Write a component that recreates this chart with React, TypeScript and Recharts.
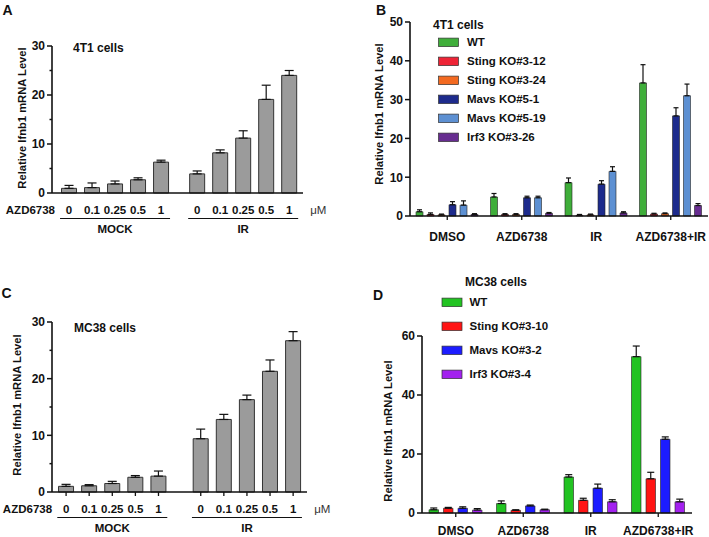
import { Bar, BarChart, ErrorBar, XAxis, YAxis } from "recharts";

const FONT = '"Liberation Sans", Arial, Helvetica, sans-serif';
const INK = "#111";

// shared dose labels (μM) for panels A and C
const DOSES = ["0", "0.1", "0.25", "0.5", "1"];

// Panel A: 4T1 cells
const A_MOCK = [0.95, 1.1, 1.85, 2.7, 6.3];
const A_MOCK_ERR = [0.6, 0.95, 0.6, 0.4, 0.4];
const A_IR = [3.9, 8.2, 11.2, 19.1, 24.0];
const A_IR_ERR = [0.6, 0.6, 1.5, 2.9, 1.0];

// Panel C: MC38 cells
const C_MOCK = [1.0, 1.1, 1.5, 2.6, 2.8];
const C_MOCK_ERR = [0.35, 0.2, 0.38, 0.3, 0.9];
const C_IR = [9.4, 12.8, 16.3, 21.3, 26.7];
const C_IR_ERR = [1.7, 0.9, 0.8, 2.0, 1.6];

const TREATMENTS = ["DMSO", "AZD6738", "IR", "AZD6738+IR"];

// Panel B: 4T1 knockouts
const B_SERIES = ["WT", "Sting KO#3-12", "Sting KO#3-24", "Mavs KO#5-1", "Mavs KO#5-19", "Irf3 KO#3-26"];
const B_COLORS = ["#3fae3a", "#ee2436", "#f36a21", "#1d2b8c", "#5d90d2", "#672d90"];
const B_WT = [1.1, 4.9, 8.6, 34.3];
const B_WT_ERR = [0.5, 0.9, 1.2, 4.7];
const B_STING12 = [0.4, 0.4, 0.2, 0.5];
const B_STING12_ERR = [0.4, 0.2, 0.2, 0.2];
const B_STING24 = [0.3, 0.4, 0.3, 0.6];
const B_STING24_ERR = [0.2, 0.2, 0.2, 0.2];
const B_MAVS1 = [2.9, 4.7, 8.2, 25.8];
const B_MAVS1_ERR = [0.8, 0.4, 0.9, 2.1];
const B_MAVS19 = [2.8, 4.7, 11.5, 31.0];
const B_MAVS19_ERR = [1.1, 0.4, 1.2, 3.0];
const B_IRF3 = [0.4, 0.7, 0.8, 2.7];
const B_IRF3_ERR = [0.2, 0.2, 0.3, 0.5];

// Panel D: MC38 knockouts
const D_SERIES = ["WT", "Sting KO#3-10", "Mavs KO#3-2", "Irf3 KO#3-4"];
const D_COLORS = ["#22c322", "#ff1414", "#1c1cff", "#a321ef"];
const D_WT = [1.1, 3.2, 12.2, 53.0];
const D_WT_ERR = [0.6, 0.9, 0.8, 3.6];
const D_STING = [1.6, 0.9, 4.3, 11.6];
const D_STING_ERR = [0.3, 0.2, 0.7, 2.2];
const D_MAVS = [1.6, 2.4, 8.4, 25.0];
const D_MAVS_ERR = [0.5, 0.3, 1.4, 0.8];
const D_IRF3 = [1.0, 1.1, 3.8, 3.8];
const D_IRF3_ERR = [0.5, 0.2, 0.7, 0.9];

const TXT = { fontFamily: FONT, fontWeight: "bold" as const, fill: INK };

function YTick(props: any) {
  const { x, y, payload, step } = props;
  const axisX = x + 7;
  const major = payload.value % step === 0;
  return (
    <g>
      <line x1={axisX - (major ? 5 : 2.5)} x2={axisX} y1={y} y2={y} stroke={INK} strokeWidth={1.5} />
      {major && (
        <text x={x} y={y + 4.3} textAnchor="end" fontSize={12} {...TXT}>
          {payload.value}
        </text>
      )}
    </g>
  );
}

interface DoseProps {
  left: number;
  top: number;
  width: number;
  height: number;
  margin: { top: number; right: number; bottom: number; left: number };
  domain: [number, number];
  gap: number;
  mock: number[];
  mockErr: number[];
  ir: number[];
  irErr: number[];
  xTicks: boolean;
}

function DoseChart(p: DoseProps) {
  const rows = [
    ...p.mock.map((v, i) => ({ pos: i, dose: DOSES[i], group: "MOCK", k: i, value: v, err: [0, p.mockErr[i]] })),
    ...p.ir.map((v, i) => ({ pos: p.gap + i, dose: DOSES[i], group: "IR", k: i, value: v, err: [0, p.irErr[i]] })),
  ];

  const renderTick = (t: any) => {
    const row = rows.find((r) => Math.abs(r.pos - t.payload.value) < 1e-6);
    if (!row) return <g />;
    const x = t.x;
    const axisY = t.y - 4;
    return (
      <g>
        <text x={x} y={axisY + 20.5} textAnchor="middle" fontSize={11.5} {...TXT}>
          {row.dose}
        </text>
        {row.group === "MOCK" && row.k === 0 && (
          <text x={x - 14} y={axisY + 20.5} textAnchor="end" fontSize={11.5} {...TXT}>
            AZD6738
          </text>
        )}
        {row.k === 2 && (
          <>
            <line x1={x - 55} x2={x + 55} y1={axisY + 25.5} y2={axisY + 25.5} stroke={INK} strokeWidth={1.2} />
            <text x={x} y={axisY + 40} textAnchor="middle" fontSize={11.5} {...TXT}>
              {row.group}
            </text>
          </>
        )}
        {row.group === "IR" && row.k === 4 && (
          <text x={x + 21} y={axisY + 20.5} fontSize={11.5} fontFamily={FONT} fill="#333">
            μM
          </text>
        )}
      </g>
    );
  };

  return (
    <div style={{ position: "absolute", left: p.left, top: p.top }}>
      <BarChart width={p.width} height={p.height} data={rows} margin={p.margin}>
        <XAxis
          type="number"
          dataKey="pos"
          domain={p.domain}
          allowDataOverflow
          ticks={rows.map((r) => r.pos)}
          interval={0}
          height={30}
          tickSize={4}
          tickMargin={0}
          tickLine={p.xTicks ? { stroke: INK, strokeWidth: 1.3 } : false}
          axisLine={{ stroke: INK, strokeWidth: 1.6 }}
          tick={renderTick}
        />
        <YAxis
          width={40}
          domain={[0, 30]}
          ticks={[0, 5, 10, 15, 20, 25, 30]}
          interval={0}
          tickSize={5}
          tickMargin={2}
          tickLine={false}
          axisLine={{ stroke: INK, strokeWidth: 1.6 }}
          tick={(t: any) => <YTick {...t} step={10} />}
        />
        <Bar dataKey="value" fill="#9b9b9b" stroke="#333" strokeWidth={1} barSize={15} isAnimationActive={false}>
          <ErrorBar dataKey="err" direction="y" width={4.5} stroke={INK} strokeWidth={1.2} />
        </Bar>
      </BarChart>
    </div>
  );
}

interface GroupProps {
  left: number;
  top: number;
  width: number;
  height: number;
  margin: { top: number; right: number; bottom: number; left: number };
  yMax: number;
  yTicks: number[];
  names: string[];
  colors: string[];
  values: number[][];
  errors: number[][];
  barSize: number;
  barGap: number;
  capWidth: number;
  xHeight: number;
  labelDrop: number;
}

function GroupChart(p: GroupProps) {
  const rows = TREATMENTS.map((g, gi) => {
    const row: Record<string, any> = { group: g };
    p.values.forEach((vals, si) => {
      row[`s${si}`] = vals[gi];
      row[`e${si}`] = [0, p.errors[si][gi]];
    });
    return row;
  });

  const renderTick = (t: any) => {
    const axisY = t.y - 4;
    return (
      <text x={t.x} y={axisY + p.labelDrop} textAnchor="middle" fontSize={12} {...TXT}>
        {t.payload.value}
      </text>
    );
  };

  return (
    <div style={{ position: "absolute", left: p.left, top: p.top }}>
      <BarChart width={p.width} height={p.height} data={rows} margin={p.margin} barGap={p.barGap}>
        <XAxis
          dataKey="group"
          interval={0}
          height={p.xHeight}
          tickSize={4}
          tickMargin={0}
          tickLine={{ stroke: INK, strokeWidth: 1.3 }}
          axisLine={{ stroke: INK, strokeWidth: 1.6 }}
          tick={renderTick}
        />
        <YAxis
          width={40}
          domain={[0, p.yMax]}
          ticks={p.yTicks}
          interval={0}
          tickSize={5}
          tickMargin={2}
          tickLine={false}
          axisLine={{ stroke: INK, strokeWidth: 1.6 }}
          tick={(t: any) => <YTick {...t} step={1} />}
        />
        {p.names.map((name, si) => (
          <Bar
            key={name}
            dataKey={`s${si}`}
            name={name}
            fill={p.colors[si]}
            stroke="#222"
            strokeWidth={0.6}
            barSize={p.barSize}
            isAnimationActive={false}
          >
            <ErrorBar dataKey={`e${si}`} direction="y" width={p.capWidth} stroke={INK} strokeWidth={1.2} />
          </Bar>
        ))}
      </BarChart>
    </div>
  );
}

function YLabel({ cx, cy }: { cx: number; cy: number }) {
  return (
    <text transform={`translate(${cx},${cy}) rotate(-90)`} y={4} textAnchor="middle" fontSize={11.2} {...TXT}>
      Relative Ifnb1 mRNA Level
    </text>
  );
}

function LegendRows(props: { names: string[]; colors: string[]; x: number; y0: number; step: number; textX: number }) {
  return (
    <g>
      {props.names.map((n, i) => {
        const cy = props.y0 + i * props.step;
        return (
          <g key={n}>
            <rect x={props.x} y={cy - 4.2} width={20} height={8.5} fill={props.colors[i]} stroke="#333" strokeWidth={0.7} />
            <text x={props.textX} y={cy + 4.1} fontSize={11.5} {...TXT}>
              {n}
            </text>
          </g>
        );
      })}
    </g>
  );
}

export default function App() {
  return (
    <div style={{ position: "absolute", left: 0, top: 0, width: 709, height: 537, background: "#fff", overflow: "hidden" }}>
      <DoseChart
        left={0}
        top={0}
        width={360}
        height={270}
        margin={{ top: 46, right: 57, bottom: 47, left: 12 }}
        domain={[-0.74, 10.17]}
        gap={5.57}
        mock={A_MOCK}
        mockErr={A_MOCK_ERR}
        ir={A_IR}
        irErr={A_IR_ERR}
        xTicks={false}
      />
      <DoseChart
        left={0}
        top={270}
        width={360}
        height={267}
        margin={{ top: 52, right: 53, bottom: 15, left: 12 }}
        domain={[-0.61, 10.43]}
        gap={5.83}
        mock={C_MOCK}
        mockErr={C_MOCK_ERR}
        ir={C_IR}
        irErr={C_IR_ERR}
        xTicks={true}
      />
      <GroupChart
        left={360}
        top={0}
        width={349}
        height={270}
        margin={{ top: 22, right: 1, bottom: 24, left: 10 }}
        yMax={50}
        yTicks={[0, 10, 20, 30, 40, 50]}
        names={B_SERIES}
        colors={B_COLORS}
        values={[B_WT, B_STING12, B_STING24, B_MAVS1, B_MAVS19, B_IRF3]}
        errors={[B_WT_ERR, B_STING12_ERR, B_STING24_ERR, B_MAVS1_ERR, B_MAVS19_ERR, B_IRF3_ERR]}
        barSize={7}
        barGap={4}
        capWidth={2.5}
        xHeight={30}
        labelDrop={25.3}
      />
      <GroupChart
        left={360}
        top={270}
        width={349}
        height={267}
        margin={{ top: 66, right: 17, bottom: 0, left: 22 }}
        yMax={60}
        yTicks={[0, 20, 40, 60]}
        names={D_SERIES}
        colors={D_COLORS}
        values={[D_WT, D_STING, D_MAVS, D_IRF3]}
        errors={[D_WT_ERR, D_STING_ERR, D_MAVS_ERR, D_IRF3_ERR]}
        barSize={9.5}
        barGap={5}
        capWidth={3.5}
        xHeight={24}
        labelDrop={21.6}
      />
      <svg width={709} height={537} style={{ position: "absolute", left: 0, top: 0, pointerEvents: "none" }}>
        <text x={2.5} y={15} fontSize={14} {...TXT}>A</text>
        <text x={376} y={15} fontSize={14} {...TXT}>B</text>
        <text x={1.5} y={298} fontSize={14} {...TXT}>C</text>
        <text x={373} y={300} fontSize={14} {...TXT}>D</text>

        <text x={73} y={52.3} fontSize={12} {...TXT}>4T1 cells</text>
        <text x={74} y={332.3} fontSize={12} {...TXT}>MC38 cells</text>
        <text x={433} y={29.3} fontSize={12} {...TXT}>4T1 cells</text>
        <text x={465} y={286.3} fontSize={12} {...TXT}>MC38 cells</text>

        <YLabel cx={22} cy={118} />
        <YLabel cx={379} cy={114} />
        <YLabel cx={17} cy={405} />
        <YLabel cx={387.5} cy={431} />

        <LegendRows names={B_SERIES} colors={B_COLORS} x={438.5} y0={42.3} step={19} textX={467} />
        <LegendRows names={D_SERIES} colors={D_COLORS} x={442} y0={302.3} step={24} textX={469.5} />
      </svg>
    </div>
  );
}
